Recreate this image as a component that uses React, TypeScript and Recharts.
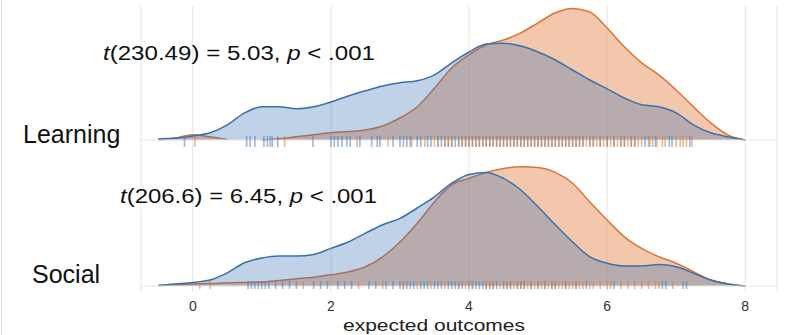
import React from "react";
import {
  ComposedChart,
  Area,
  Scatter,
  XAxis,
  YAxis,
  CartesianGrid,
  ReferenceLine,
} from "recharts";

// density grid (expected outcomes)
const xGrid = [
  -0.5, -0.25, 0, 0.25, 0.5, 0.75, 1, 1.25, 1.5, 1.75, 2, 2.25, 2.5, 2.75, 3,
  3.25, 3.5, 3.75, 4, 4.25, 4.5, 4.75, 5, 5.25, 5.5, 5.75, 6, 6.25, 6.5, 6.75,
  7, 7.25, 7.5, 7.75, 8,
];

const learningBlue = [
  0.003, 0.005, 0.01, 0.018, 0.038, 0.068, 0.083, 0.083, 0.078, 0.083, 0.095,
  0.11, 0.123, 0.135, 0.143, 0.148, 0.163, 0.193, 0.22, 0.24, 0.242, 0.235,
  0.22, 0.2, 0.175, 0.15, 0.128, 0.105, 0.088, 0.083, 0.068, 0.038, 0.018,
  0.008, 0,
];
const learningOrange = [
  0, 0.005, 0.013, 0.008, 0.001, null, 0, 0.003, 0.008, 0.013, 0.018, 0.021,
  0.025, 0.035, 0.055, 0.083, 0.13, 0.18, 0.213, 0.238, 0.25, 0.268, 0.293,
  0.318, 0.329, 0.32, 0.28, 0.233, 0.193, 0.163, 0.125, 0.083, 0.043, 0.013, 0,
];
const socialBlue = [
  0.001, 0.005, 0.009, 0.015, 0.033, 0.058, 0.07, 0.075, 0.075, 0.079, 0.094,
  0.11, 0.132, 0.153, 0.169, 0.195, 0.223, 0.257, 0.279, 0.284, 0.269, 0.24,
  0.198, 0.153, 0.11, 0.073, 0.057, 0.05, 0.05, 0.054, 0.048, 0.032, 0.015,
  0.005, 0,
];
const socialOrange = [
  0.001, 0.003, 0.005, 0.006, 0.008, 0.009, 0.01, 0.014, 0.018, 0.022, 0.028,
  0.035, 0.048, 0.073, 0.11, 0.157, 0.21, 0.253, 0.269, 0.284, 0.294, 0.298,
  0.296, 0.284, 0.257, 0.21, 0.165, 0.123, 0.094, 0.073, 0.057, 0.036, 0.015,
  0.005, 0,
];

// rug observations
const learningRugBlue = [
  -0.12, 0.78, 0.83, 0.9, 1.03, 1.08, 1.12, 1.15, 1.23, 1.74, 2.0, 2.05, 2.1,
  2.16, 2.23, 2.28, 2.42, 2.59, 2.67, 2.71, 2.9, 3.0, 3.05, 3.1, 3.15, 3.25,
  3.3, 3.4, 3.45, 3.55, 3.6, 3.65, 3.7, 3.75, 3.8, 3.85, 3.9, 3.95, 4.0, 4.05,
  4.1, 4.15, 4.2, 4.25, 4.3, 4.35, 4.4, 4.45, 4.5, 4.55, 4.6, 4.65, 4.7, 4.75,
  4.8, 4.85, 4.9, 4.95, 5.0, 5.05, 5.1, 5.15, 5.2, 5.25, 5.3, 5.35, 5.4, 5.45,
  5.5, 5.55, 5.6, 5.65, 5.75, 5.8, 5.9, 6.0, 6.1, 6.2, 6.25, 6.35, 6.4, 6.55,
  6.6, 6.7, 6.9, 6.94, 7.2,
];
const learningRugOrange = [
  0.03, 1.33, 2.38, 2.83, 3.17, 3.36, 3.5, 3.55, 3.65, 3.7, 3.75, 3.85, 3.9,
  3.95, 4.0, 4.05, 4.1, 4.15, 4.2, 4.25, 4.3, 4.35, 4.4, 4.45, 4.5, 4.55, 4.6,
  4.65, 4.7, 4.75, 4.8, 4.85, 4.9, 4.95, 5.0, 5.05, 5.1, 5.15, 5.2, 5.25, 5.3,
  5.35, 5.4, 5.45, 5.5, 5.55, 5.6, 5.65, 5.7, 5.75, 5.8, 5.85, 5.9, 5.95, 6.0,
  6.05, 6.1, 6.15, 6.2, 6.25, 6.3, 6.35, 6.4, 6.45, 6.5, 6.62, 6.66, 6.72, 6.8,
  6.84, 7.0, 7.06, 7.1, 7.15, 7.23,
];
const socialRugBlue = [
  0.8, 0.85, 0.9, 0.95, 1.0, 1.05, 1.1, 1.2, 1.3, 1.4, 1.5, 1.75, 1.85, 1.95,
  2.1, 2.2, 2.3, 2.55, 2.65, 2.8, 2.9, 3.0, 3.05, 3.1, 3.15, 3.2, 3.3, 3.35,
  3.4, 3.5, 3.55, 3.6, 3.7, 3.75, 3.8, 3.85, 3.9, 4.0, 4.05, 4.1, 4.15, 4.2,
  4.25, 4.3, 4.35, 4.4, 4.5, 4.55, 4.6, 4.7, 4.75, 4.8, 4.9, 5.0, 5.1, 5.2,
  5.25, 5.4, 5.55, 5.7, 6.1, 6.8, 6.85, 7.1, 7.15,
];
const socialRugOrange = [
  0.1, 0.25, 1.6, 2.4, 2.75, 3.05, 3.25, 3.45, 3.65, 3.85, 3.95, 4.05, 4.25,
  4.3, 4.35, 4.45, 4.5, 4.55, 4.6, 4.65, 4.7, 4.75, 4.8, 4.85, 4.9, 4.95, 5.0,
  5.05, 5.1, 5.15, 5.2, 5.25, 5.3, 5.35, 5.4, 5.45, 5.5, 5.55, 5.6, 5.65, 5.75,
  5.8, 5.9, 6.0, 6.05, 6.2, 6.3, 6.4, 6.5, 6.6, 6.7, 6.75, 6.95,
];

const xTicks = [0, 2, 4, 6, 8];

const BLUE = "#3a71ad";
const ORANGE = "#d9753a";

const densityData = xGrid.map((x, i) => ({
  x,
  learnBlue: learningBlue[i],
  learnOrange: learningOrange[i],
  socialBlue: socialBlue[i],
  socialOrange: socialOrange[i],
}));

const toRug = (values: number[]) => values.map((x) => ({ x, y: 0 }));

const rugTick = (color: string, up: number, down: number) => (props: any) => {
  const { cx, cy } = props;
  if (cx == null || cy == null) return <g />;
  return (
    <line
      x1={cx}
      x2={cx}
      y1={cy - up}
      y2={cy + down}
      stroke={color}
      strokeWidth={1.6}
      strokeOpacity={0.55}
    />
  );
};

const font = "'Liberation Sans', Arial, sans-serif";

export default function App() {
  return (
    <div
      style={{
        position: "absolute",
        left: 0,
        top: 0,
        width: 791,
        height: 335,
        background: "#fff",
        overflow: "hidden",
      }}
    >
      <ComposedChart
        width={791}
        height={335}
        data={densityData}
        margin={{ top: 6, right: 14, left: 141, bottom: 13 }}
      >
        <CartesianGrid vertical horizontal={false} stroke="#e4e4e4" />
        <XAxis
          dataKey="x"
          type="number"
          domain={[-0.75, 8.46]}
          ticks={xTicks}
          allowDataOverflow
          axisLine={false}
          tickLine={false}
          tickMargin={3}
          height={30}
          tick={{ fontSize: 14, fill: "#333", fontFamily: font }}
          label={{
            content: () => (
              <text
                x={343}
                y={331}
                fontSize={17}
                fill="#222"
                fontFamily={font}
                textLength={182}
                lengthAdjust="spacingAndGlyphs"
              >
                expected outcomes
              </text>
            ),
          }}
        />
        <YAxis yAxisId="learn" hide domain={[-0.38, 0.335]} allowDataOverflow />
        <YAxis yAxisId="social" hide domain={[-0.015, 0.7]} allowDataOverflow />
        <ReferenceLine yAxisId="learn" y={0} stroke="#e4e4e4" />
        <ReferenceLine yAxisId="social" y={0} stroke="#e4e4e4" />

        <Area
          yAxisId="learn"
          dataKey="learnOrange"
          type="monotone"
          baseValue={0}
          stroke={ORANGE}
          strokeWidth={1.5}
          fill="#e6905a"
          fillOpacity={0.5}
          isAnimationActive={false}
        />
        <Area
          yAxisId="learn"
          dataKey="learnBlue"
          type="monotone"
          baseValue={0}
          stroke={BLUE}
          strokeWidth={1.5}
          fill="#2d69af"
          fillOpacity={0.3}
          isAnimationActive={false}
        />
        <Area
          yAxisId="social"
          dataKey="socialOrange"
          type="monotone"
          baseValue={0}
          stroke={ORANGE}
          strokeWidth={1.5}
          fill="#e6905a"
          fillOpacity={0.5}
          isAnimationActive={false}
        />
        <Area
          yAxisId="social"
          dataKey="socialBlue"
          type="monotone"
          baseValue={0}
          stroke={BLUE}
          strokeWidth={1.5}
          fill="#2d69af"
          fillOpacity={0.3}
          isAnimationActive={false}
        />

        <Scatter
          yAxisId="learn"
          data={toRug(learningRugBlue)}
          dataKey="y"
          shape={rugTick("#4a7fb8", 4, 7)}
          isAnimationActive={false}
        />
        <Scatter
          yAxisId="learn"
          data={toRug(learningRugOrange)}
          dataKey="y"
          shape={rugTick("#e07b3c", 4, 7)}
          isAnimationActive={false}
        />
        <Scatter
          yAxisId="social"
          data={toRug(socialRugBlue)}
          dataKey="y"
          shape={rugTick("#4a7fb8", 5, 3)}
          isAnimationActive={false}
        />
        <Scatter
          yAxisId="social"
          data={toRug(socialRugOrange)}
          dataKey="y"
          shape={rugTick("#e07b3c", 5, 3)}
          isAnimationActive={false}
        />
      </ComposedChart>

      <svg
        width={791}
        height={335}
        style={{ position: "absolute", left: 0, top: 0, pointerEvents: "none" }}
      >
        <line x1={1.5} x2={1.5} y1={0} y2={335} stroke="#d9dfea" />
        <text x={23} y={143} fontSize={25} fill="#111" fontFamily={font}>
          Learning
        </text>
        <text x={32} y={283} fontSize={25} fill="#111" fontFamily={font}>
          Social
        </text>
        <text
          x={103}
          y={60}
          fontSize={20}
          fill="#111"
          fontFamily={font}
          textLength={272}
          lengthAdjust="spacingAndGlyphs"
        >
          <tspan fontStyle="italic">t</tspan>(230.49) = 5.03,{" "}
          <tspan fontStyle="italic">p</tspan> &lt; .001
        </text>
        <text
          x={120}
          y={203}
          fontSize={20}
          fill="#111"
          fontFamily={font}
          textLength={257}
          lengthAdjust="spacingAndGlyphs"
        >
          <tspan fontStyle="italic">t</tspan>(206.6) = 6.45,{" "}
          <tspan fontStyle="italic">p</tspan> &lt; .001
        </text>
      </svg>
    </div>
  );
}
